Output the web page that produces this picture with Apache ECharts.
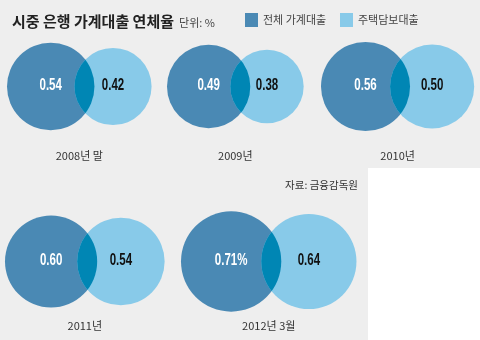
<!DOCTYPE html>
<html><head><meta charset="utf-8">
<script src="https://cdn.jsdelivr.net/npm/echarts@6/dist/echarts.min.js"></script>
<style>html,body{margin:0;padding:0;background:#eeeeee}#c{width:480px;height:340px}</style>
</head><body><div id="c"></div>
<script>
// ---- data ----
const periods = ['2008년 말', '2009년', '2010년', '2011년', '2012년 3월'];
const totalLoans = [0.54, 0.49, 0.56, 0.60, 0.71];
const mortgageLoans = [0.42, 0.38, 0.50, 0.54, 0.64];
const totalLabels = ['0.54', '0.49', '0.56', '0.60', '0.71%'];
const mortgageLabels = ['0.42', '0.38', '0.50', '0.54', '0.64'];
const seriesNames = ['전체 가계대출', '주택담보대출'];

// ---- layout / style ----
const panelLeft = [7, 167, 321, 5, 181];
const panelRow = [0, 0, 0, 1, 1];
const rowTop = [40, 215];
const rowHeight = 93;
const rowNameGap = [17, 12];
const K = 59.5;      // px radius per sqrt(value): circle area proportional to value
const OVERLAP = 20;  // px overlap of the two circles
const C_DARK = '#4a89b4', C_LIGHT = '#88cae9', C_MID = '#0086b4';
const NUM_FONT = "'Liberation Sans',sans-serif";
const KR_FONT = "'Noto Sans CJK KR',sans-serif";

const rad = v => K * Math.sqrt(v);
const grids = [], xAxes = [], yAxes = [], series = [];
periods.forEach((p, i) => {
  const rD = rad(totalLoans[i]), rL = rad(mortgageLoans[i]);
  const w = 2 * rD + 2 * rL - OVERLAP;
  const row = panelRow[i];
  grids.push({ left: panelLeft[i], top: rowTop[row], width: w, height: rowHeight });
  xAxes.push({
    gridIndex: i, type: 'value', min: 0, max: w,
    axisLine: { show: false }, axisTick: { show: false }, axisLabel: { show: false }, splitLine: { show: false },
    name: p, nameLocation: 'middle', nameGap: rowNameGap[row],
    nameTextStyle: { fontFamily: KR_FONT, fontSize: 11, color: '#333' }
  });
  yAxes.push({ gridIndex: i, type: 'value', min: -1, max: 1, show: false });
  const xD = rD, xL = 2 * rD - OVERLAP + rL;
  series.push({
    type: 'scatter', name: seriesNames[0], xAxisIndex: i, yAxisIndex: i, clip: false, z: 2,
    data: [[xD, 0, totalLoans[i]]],
    symbolSize: v => 2 * rad(v[2]),
    itemStyle: { color: C_DARK, opacity: 1 },
    emphasis: { disabled: true }
  });
  series.push({
    type: 'scatter', name: seriesNames[1], xAxisIndex: i, yAxisIndex: i, clip: false, z: 2,
    data: [[xL, 0, mortgageLoans[i]]],
    symbolSize: v => 2 * rad(v[2]),
    itemStyle: { color: C_LIGHT, opacity: 1 },
    emphasis: { disabled: true }
  });
  // overlap region + condensed value labels
  series.push({
    type: 'custom', xAxisIndex: i, yAxisIndex: i, z: 3, silent: true,
    data: [[xD, 0, totalLoans[i], xL, mortgageLoans[i]]],
    renderItem: (params, api) => {
      const pD = api.coord([api.value(0), 0]);
      const pL = api.coord([api.value(3), 0]);
      const txt = (p, s, c) => ({
        type: 'text', x: p[0], y: p[1] - 1, scaleX: 0.72, scaleY: 1,
        style: { text: s, fill: c, fontSize: 16, fontWeight: 'bold', fontFamily: NUM_FONT,
                 align: 'center', verticalAlign: 'middle' }
      });
      return {
        type: 'group', children: [
          {
            type: 'circle',
            shape: { cx: pL[0], cy: pL[1], r: rad(api.value(4)) },
            style: { fill: C_MID },
            clipPath: { type: 'circle', shape: { cx: pD[0], cy: pD[1], r: rad(api.value(2)) } }
          },
          txt(pD, totalLabels[i], '#ffffff'),
          txt(pL, mortgageLabels[i], '#111111')
        ]
      };
    }
  });
});

const legendText = { fontFamily: KR_FONT, fontSize: 11, color: '#444' };
const chart = echarts.init(document.getElementById('c'), null, { renderer: 'canvas' });
chart.setOption({
  backgroundColor: '#eeeeee',
  animation: false,
  title: {
    left: 7, top: 7,
    text: '{a|시중 은행 가계대출 연체율} {b|단위: %}',
    textStyle: {
      rich: {
        a: { fontFamily: KR_FONT, fontSize: 15, fontWeight: 'bold', color: '#222' },
        b: { fontFamily: KR_FONT, fontSize: 11, fontWeight: 'normal', color: '#444', padding: [3, 0, 0, 0] }
      }
    }
  },
  legend: [
    { left: 240, top: 8, icon: 'rect', itemWidth: 13, itemHeight: 14, data: [seriesNames[0]], textStyle: legendText, selectedMode: false },
    { left: 335, top: 8, icon: 'rect', itemWidth: 13, itemHeight: 14, data: [seriesNames[1]], textStyle: legendText, selectedMode: false }
  ],
  graphic: [
    { type: 'rect', left: 368, top: 168, shape: { width: 112, height: 172 }, style: { fill: '#ffffff' }, z: 0, silent: true },
    { type: 'text', right: 122, top: 180, style: { text: '자료: 금융감독원', fontFamily: KR_FONT, fontSize: 10.5, fill: '#333' } }
  ],
  grid: grids, xAxis: xAxes, yAxis: yAxes, series: series
});
</script></body></html>
